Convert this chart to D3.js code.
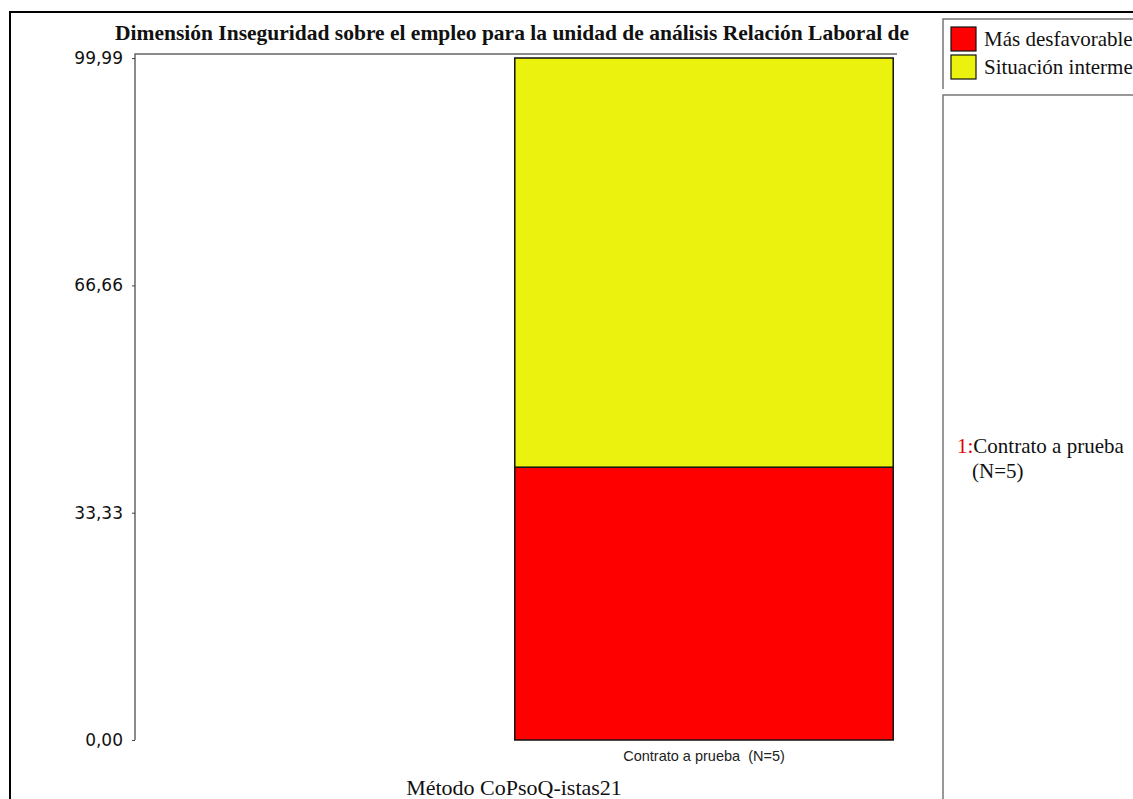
<!DOCTYPE html>
<html><head><meta charset="utf-8">
<script src="https://cdn.jsdelivr.net/npm/d3@7"></script>
<style>body{margin:0;background:#fff;}svg{display:block;}text{white-space:pre;}</style>
</head><body>
<svg id="c" width="1133" height="799"></svg>
<script>
const title = "Dimensión Inseguridad sobre el empleo para la unidad de análisis Relación Laboral de";
const categories = ["Contrato a prueba  (N=5)"];
const seriesNames = ["Más desfavorable", "Situación intermedia"];
const seriesColors = ["#ff0000", "#ebf20d"];
const masDesfavorable = [40];
const situacionIntermedia = [60];
const yTicks = [0, 33.33, 66.66, 99.99];
const yTickLabels = ["0,00", "33,33", "66,66", "99,99"];
const xLabel = "Método CoPsoQ-istas21";
const listLabels = ["Contrato a prueba", "(N=5)"];

const svg = d3.select("#c");
const serif = "'Liberation Serif','Times New Roman',serif";
const sans = "'DejaVu Sans',Verdana,sans-serif";

// outer border
svg.append("path").attr("d","M10,1000 V12 H1200").attr("fill","none").attr("stroke","#000").attr("stroke-width",2);

const plotL = 135, plotR = 897, plotT = 54, plotB = 740;
const y = d3.scaleLinear().domain([0,100]).range([plotB, 58]);
const x = d3.scaleBand().domain(categories).range([511, plotR]).paddingOuter(0.01);

// frame
svg.append("path").attr("d",`M${plotL},${plotB} V${plotT} H${plotR}`).attr("fill","none").attr("stroke","#666").attr("stroke-width",1.5);

// title
svg.append("text").attr("x",512).attr("y",40).attr("text-anchor","middle")
  .attr("font-family",serif).attr("font-weight","bold").attr("font-size",21.5).attr("fill","#111")
  .text(title);

// y axis
const yAxis = d3.axisLeft(y).tickValues(yTicks).tickSize(3).tickFormat((d,i)=>yTickLabels[i]);
const ga = svg.append("g").attr("transform",`translate(${plotL},0)`).call(yAxis);
ga.select(".domain").remove();
ga.selectAll("line").attr("stroke","#444");
ga.selectAll("text").attr("font-family",sans).attr("font-size",17).attr("fill","#111").attr("x",-12);

// stacked bars
const rows = categories.map((c,i)=>({cat:c, a:masDesfavorable[i], b:situacionIntermedia[i]}));
const stack = d3.stack().keys(["a","b"])(rows);
svg.append("g").selectAll("g").data(stack).join("g")
  .attr("fill",(d,i)=>seriesColors[i])
  .selectAll("rect").data(d=>d).join("rect")
  .attr("x",d=>x(d.data.cat)).attr("width",x.bandwidth())
  .attr("y",d=>y(d[1])).attr("height",d=>y(d[0])-y(d[1]))
  .attr("stroke","#111").attr("stroke-width",1.5);

// category label
svg.append("g").selectAll("text").data(categories).join("text")
  .attr("x",d=>x(d)+x.bandwidth()/2).attr("y",761).attr("text-anchor","middle")
  .attr("font-family","'Liberation Sans',Arial,sans-serif").attr("font-size",14.5).attr("fill","#222")
  .text(d=>d);

// x label
svg.append("text").attr("x",514).attr("y",795).attr("text-anchor","middle")
  .attr("font-family",serif).attr("font-size",22).attr("fill","#111").text(xLabel);

// legend box
svg.append("path").attr("d","M943,89 V19 H1140").attr("fill","none").attr("stroke","#777").attr("stroke-width",1.5);
const lg = svg.append("g").selectAll("g").data(seriesNames).join("g")
  .attr("transform",(d,i)=>`translate(951,${27+i*28})`);
lg.append("rect").attr("width",25).attr("height",24).attr("fill",(d,i)=>seriesColors[i]).attr("stroke","#111").attr("stroke-width",1.2);
lg.append("text").attr("x",33).attr("y",19).attr("font-family",serif).attr("font-size",21).attr("fill","#111").text(d=>d);

// list box
svg.append("path").attr("d","M943,900 V95 H1140").attr("fill","none").attr("stroke","#777").attr("stroke-width",1.5);
const t1 = svg.append("text").attr("x",957).attr("y",453).attr("font-family",serif).attr("font-size",21).attr("fill","#111");
t1.append("tspan").attr("fill","#e00000").text("1:");
t1.append("tspan").text(listLabels[0]);
svg.append("text").attr("x",972).attr("y",478).attr("font-family",serif).attr("font-size",21).attr("fill","#111").text(listLabels[1]);
</script>
</body></html>
